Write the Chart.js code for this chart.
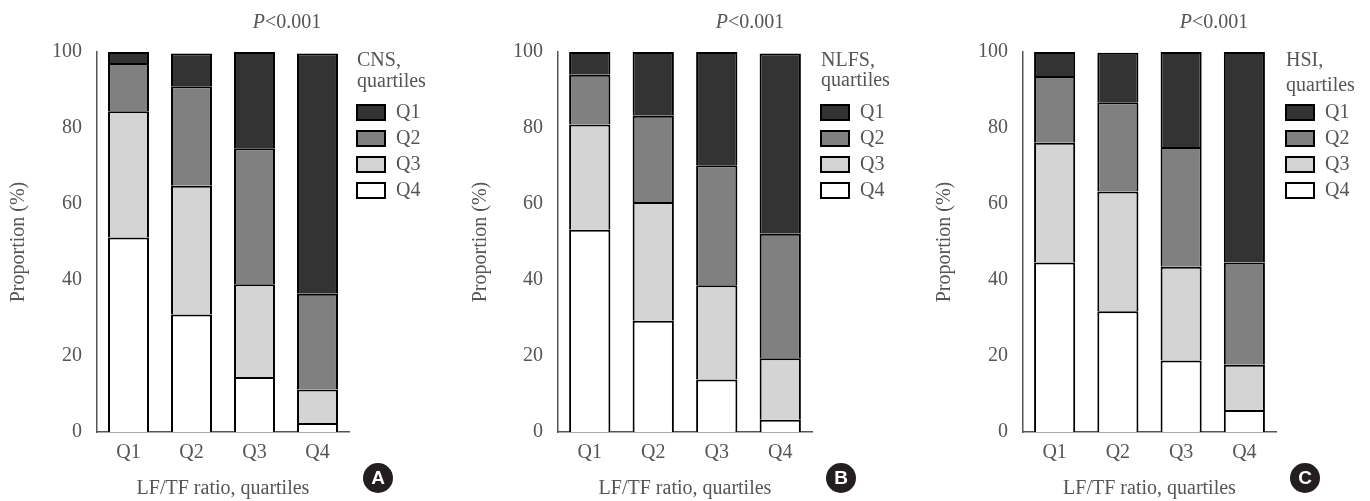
<!DOCTYPE html>
<html>
<head>
<meta charset="utf-8">
<title>LF/TF ratio quartiles</title>
<script src="https://cdn.jsdelivr.net/npm/chart.js@4"></script>
<style>
    html, body { margin: 0; padding: 0; background: #fff; }
    body { width: 1370px; height: 501px; position: relative; overflow: hidden; }
    canvas { position: absolute; top: 0; }
</style>
</head>
<body>
<canvas id="chartA" width="460" height="501" style="left:0px"></canvas>
<canvas id="chartB" width="450" height="501" style="left:460px"></canvas>
<canvas id="chartC" width="460" height="501" style="left:910px"></canvas>

<script>
// x categories: LF/TF ratio quartiles
const categories = ['Q1', 'Q2', 'Q3', 'Q4'];
const yTicks = [0, 20, 40, 60, 80, 100];
const pValueText = '<0.001';

// CNS quartile shares (%), bottom segment first
const cnsQ4 = [51.2, 30.9, 14.5, 2.4];
const cnsQ3 = [33.2, 33.9, 24.4, 8.8];
const cnsQ2 = [12.7, 26.2, 35.8, 25.2];
const cnsQ1 = [2.9, 8.6, 25.3, 63.2];

// NLFS quartile shares (%)
const nlfsQ4 = [53.2, 29.3, 13.8, 3.2];
const nlfsQ3 = [27.7, 31.2, 24.8, 16.2];
const nlfsQ2 = [13.1, 22.7, 31.6, 32.8];
const nlfsQ1 = [6.0, 16.8, 29.8, 47.4];

// HSI quartile shares (%)
const hsiQ4 = [44.6, 31.8, 18.8, 5.8];
const hsiQ3 = [31.5, 31.5, 24.7, 11.9];
const hsiQ2 = [17.6, 23.5, 31.5, 26.9];
const hsiQ1 = [6.3, 13.0, 25.0, 55.4];

const FONT = '"Liberation Serif", "Times New Roman", serif';
const TEXT = '#555555';
const fills = { Q1: '#333333', Q2: '#808080', Q3: '#d4d4d4', Q4: '#ffffff' };

// draws the P value, the legend block and the panel letter
const panelDecor = {
    id: 'panelDecor',
    afterDraw(chart, args, opts) {
        const ctx = chart.ctx;
        const area = chart.chartArea;
        ctx.save();
        ctx.fillStyle = TEXT;
        ctx.textBaseline = 'middle';

        // P<0.001 with italic P
        ctx.font = 'italic 20px ' + FONT;
        const wP = ctx.measureText('P').width;
        ctx.font = '20px ' + FONT;
        const wRest = ctx.measureText(pValueText).width;
        let px = area.right - 62 - (wP + wRest) / 2;
        ctx.textAlign = 'left';
        ctx.font = 'italic 20px ' + FONT;
        ctx.fillText('P', px, 23);
        ctx.font = '20px ' + FONT;
        ctx.fillText(pValueText, px + wP, 23);

        // legend title
        const lx = area.right + opts.legendGap;
        ctx.fillText(opts.legendTitle[0], lx, 61);
        ctx.fillText(opts.legendTitle[1], lx, 82 + opts.titleShift);

        // legend entries, top stack first
        const sets = chart.data.datasets.slice().reverse();
        sets.forEach((ds, i) => {
            const y = 105 + i * 26;
            ctx.fillStyle = ds.backgroundColor;
            ctx.fillRect(lx, y, 28, 15);
            ctx.strokeStyle = '#000';
            ctx.lineWidth = 2;
            ctx.strokeRect(lx, y, 28, 15);
            ctx.fillStyle = TEXT;
            ctx.fillText(ds.label, lx + 39, y + 8);
        });

        // circled panel letter
        const cx = area.right + 29;
        const cy = 478;
        ctx.beginPath();
        ctx.arc(cx, cy, 15, 0, Math.PI * 2);
        ctx.fillStyle = '#231f20';
        ctx.fill();
        ctx.fillStyle = '#fff';
        ctx.textAlign = 'center';
        ctx.font = 'bold 19px "Liberation Sans", Arial, sans-serif';
        ctx.fillText(opts.letter, cx, cy + 1);
        ctx.restore();
    }
};

function makeDataset(label, values) {
    return {
        label: label,
        data: values,
        backgroundColor: fills[label],
        borderColor: '#000000',
        borderWidth: 2,
        barPercentage: 0.65,
        categoryPercentage: 1.0
    };
}

function makeChart(canvasId, series, legendTitle, letter, layout) {
    const ctx = document.getElementById(canvasId).getContext('2d');
    const datasets = [
        makeDataset('Q4', series[3]),
        makeDataset('Q3', series[2]),
        makeDataset('Q2', series[1]),
        makeDataset('Q1', series[0])
    ];

    return new Chart(ctx, {
        type: 'bar',
        data: { labels: categories, datasets: datasets },
        plugins: [panelDecor],
        options: {
            responsive: false,
            animation: false,
            layout: {
                padding: { top: 52, right: layout.padRight, bottom: 0, left: 0 }
            },
            plugins: {
                legend: { display: false },
                tooltip: { enabled: false },
                panelDecor: {
                    legendTitle: legendTitle,
                    letter: letter,
                    legendGap: layout.legendGap,
                    titleShift: layout.titleShift
                }
            },
            scales: {
                x: {
                    stacked: true,
                    grid: { display: false, drawTicks: false },
                    border: { display: true, color: '#555', width: 1.5 },
                    ticks: {
                        color: TEXT,
                        padding: 9,
                        font: { family: FONT, size: 20 }
                    },
                    title: {
                        display: true,
                        text: 'LF/TF ratio, quartiles',
                        color: TEXT,
                        font: { family: FONT, size: 20 },
                        padding: { top: 0, bottom: 0 }
                    },
                    afterFit: function(scale) { scale.height = 69; }
                },
                y: {
                    stacked: true,
                    min: 0,
                    max: 100,
                    afterBuildTicks: function(scale) {
                        scale.ticks = yTicks.map(v => ({ value: v }));
                    },
                    grid: { display: false, drawTicks: false },
                    border: { display: true, color: '#555', width: 1.5 },
                    ticks: {
                        color: TEXT,
                        padding: 15,
                        font: { family: FONT, size: 20 }
                    },
                    title: {
                        display: true,
                        text: 'Proportion (%)',
                        color: TEXT,
                        font: { family: FONT, size: 20 },
                        padding: { top: layout.titlePad, bottom: 0 }
                    },
                    afterFit: function(scale) { scale.width = layout.axisWidth; }
                }
            }
        }
    });
}

makeChart('chartA', [cnsQ1, cnsQ2, cnsQ3, cnsQ4], ['CNS,', 'quartiles'], 'A',
    { axisWidth: 97, padRight: 111, titlePad: 7, legendGap: 8, titleShift: 0 });
makeChart('chartB', [nlfsQ1, nlfsQ2, nlfsQ3, nlfsQ4], ['NLFS,', 'quartiles'], 'B',
    { axisWidth: 98, padRight: 98, titlePad: 9, legendGap: 9, titleShift: -1 });
makeChart('chartC', [hsiQ1, hsiQ2, hsiQ3, hsiQ4], ['HSI,', 'quartiles'], 'C',
    { axisWidth: 113, padRight: 94, titlePad: 23, legendGap: 10, titleShift: 4 });
</script>
</body>
</html>
